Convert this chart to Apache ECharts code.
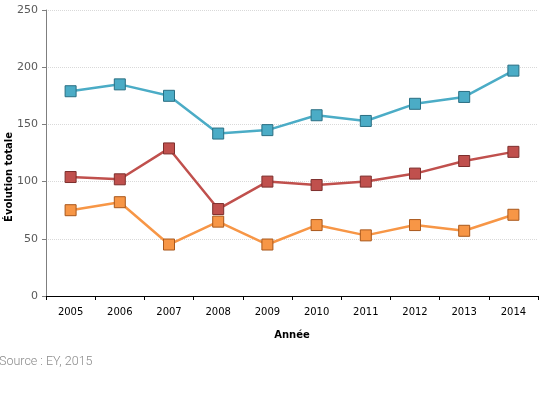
<!DOCTYPE html>
<html>
<head>
<meta charset="utf-8">
<script src="https://cdn.jsdelivr.net/npm/echarts@6/dist/echarts.min.js"></script>
<style>
  html, body { margin: 0; padding: 0; background: #fff; }
  #chart { width: 541px; height: 419px; }
</style>
</head>
<body>
<div id="chart"></div>
<script>
var years = ['2005', '2006', '2007', '2008', '2009', '2010', '2011', '2012', '2013', '2014'];
var blueValues = [179, 185, 175, 142, 145, 158, 153, 168, 174, 197];
var redValues = [104, 102, 129, 76, 100, 97, 100, 107, 118, 126];
var orangeValues = [75, 82, 45, 65, 45, 62, 53, 62, 57, 71];

function lineSeries(name, data, color, border) {
  return {
    name: name,
    type: 'line',
    data: data,
    symbol: 'rect',
    symbolSize: 11,
    lineStyle: { color: color, width: 2.5 },
    itemStyle: { color: color, borderColor: border, borderWidth: 1 },
    z: 3
  };
}

var chart = echarts.init(document.getElementById('chart'));

var option = {
  animation: false,
  grid: { left: 46, right: 3, top: 10, bottom: 123, containLabel: false, outerBoundsMode: 'none' },
  xAxis: {
    type: 'category',
    data: years,
    name: 'Année',
    nameLocation: 'middle',
    nameGap: 34,
    nameMoveOverlap: false,
    nameTextStyle: { fontFamily: 'DejaVu Sans', fontWeight: 'bold', fontSize: 10, color: '#000' },
    axisLine: { lineStyle: { color: '#000', width: 1 } },
    axisTick: { show: true, length: 4, lineStyle: { color: '#000' } },
    axisLabel: { fontFamily: 'DejaVu Sans', fontSize: 10, color: '#000', margin: 11 }
  },
  yAxis: {
    type: 'value',
    min: 0,
    max: 250,
    interval: 50,
    axisLine: { show: true, lineStyle: { color: '#7f7f7f' } },
    axisTick: { show: true, length: 4, lineStyle: { color: '#7f7f7f' } },
    axisLabel: { fontFamily: 'DejaVu Sans', fontSize: 11, color: '#595959', margin: 8 },
    splitLine: { lineStyle: { color: '#d9d9d9', type: 'dotted' } }
  },
  series: [
    lineSeries('Série 1', blueValues, '#4bacc6', '#2a6f83'),
    lineSeries('Série 2', redValues, '#c0504d', '#7d2f2d'),
    lineSeries('Série 3', orangeValues, '#f79646', '#a9581c')
  ],
  graphic: [{
    // y axis title sits lower than the axis middle in the original
    type: 'text',
    x: 9,
    y: 177,
    rotation: Math.PI / 2,
    style: {
      text: 'Évolution totale', fontFamily: 'DejaVu Sans', fontWeight: 'bold', fontSize: 10,
      fill: '#000', align: 'center', verticalAlign: 'middle'
    }
  }, {
    type: 'text',
    left: -1,
    top: 355,
    style: { text: 'Source : EY, 2015', fontFamily: 'Roboto', fontWeight: 300, fontSize: 12.5, fill: '#8a8a8a' }
  }]
};

chart.setOption(option);
</script>
</body>
</html>
